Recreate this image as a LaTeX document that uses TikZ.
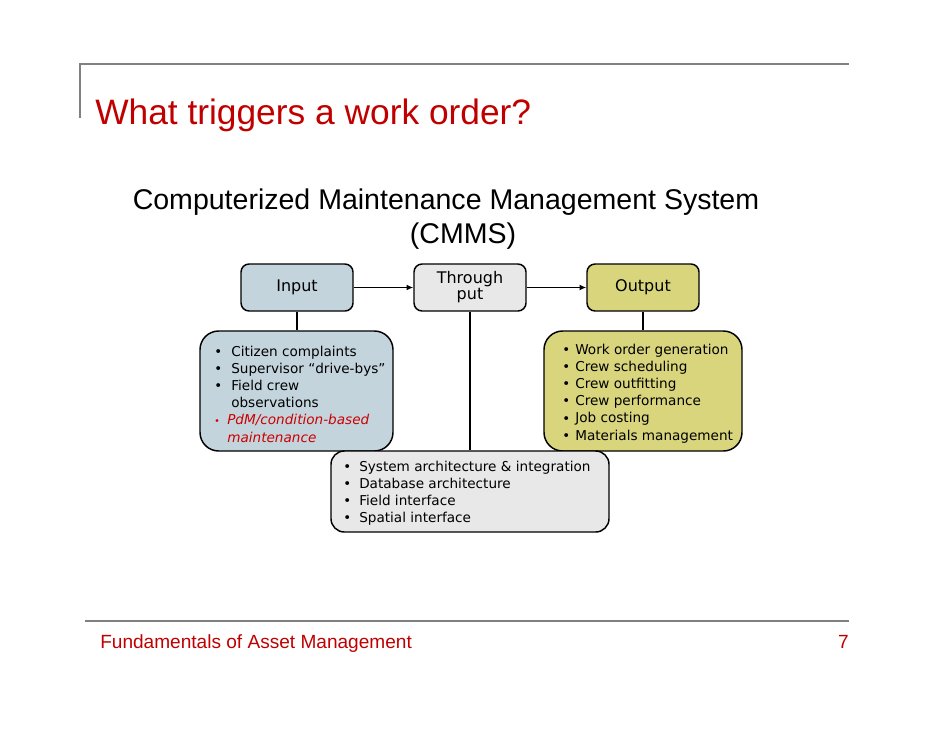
\documentclass[tikz,border=0pt]{standalone}
\usepackage{fontspec}
\setmainfont{Liberation Sans}
\newfontfamily\boxfont{DejaVu Sans}
\usetikzlibrary{arrows.meta}
\definecolor{slidered}{HTML}{C00000}
\definecolor{rulegray}{HTML}{808080}
\definecolor{inblue}{HTML}{C3D4DD}
\definecolor{thgray}{HTML}{E8E8E8}
\definecolor{outyel}{HTML}{D9D57D}
\definecolor{pdmred}{HTML}{CC0000}
\newlength\bulw
\newcommand\bul{\makebox[\bulw][l]{\raisebox{-0.2pt}{\fontsize{10}{10}\selectfont •}}}
\newcommand\itm[1]{\hbox{\bul#1}}
\newcommand\cont[1]{\hbox{\hspace*{\bulw}#1}}
\newcommand\lst[2]{\vtop{\setlength\bulw{#1}\baselineskip=12.9pt #2}}
\tikzset{
  topbox/.style={draw=black, line width=1.1pt, rounded corners=6pt, minimum width=84pt, minimum height=35.25pt, inner sep=0pt, font=\boxfont\fontsize{12}{12}\selectfont, align=center},
  listbox/.style={draw=black, line width=1.1pt, minimum height=90pt, inner sep=0pt},
  listtext/.style={anchor=base west, inner sep=0pt, font=\boxfont\fontsize{10.2}{12.9}\selectfont},
  conn/.style={line width=1.1pt},
  arr/.style={line width=1.1pt, -{Latex[length=5pt,width=4.5pt]}},
  rule/.style={draw=rulegray, line width=1.6pt}
}
\begin{document}
\begin{tikzpicture}[x=0.75pt,y=-0.75pt]
\useasboundingbox (0,0) rectangle (942,728);
% slide rules
\coordinate (tl) at (80,64);
\coordinate (tr) at (849,64);
\coordinate (tv) at (80,118);
\coordinate (bl) at (85,621);
\coordinate (br) at (849,621);
\draw[rule] (tv) -- (tl) -- (tr);
\draw[rule] (bl) -- (br);
% title
\node[anchor=base west, inner sep=0pt, text=slidered, font=\fontsize{26.5}{30}\selectfont] (title) at (95,124) {What triggers a work order?};
\node[anchor=base, inner sep=0pt, font=\fontsize{21.4}{24}\selectfont] (sub1) at (446,209) {Computerized Maintenance Management System};
\node[anchor=base, inner sep=0pt, font=\fontsize{21.4}{24}\selectfont] (sub2) at (463,243) {(CMMS)};
% top boxes
\node[topbox, fill=inblue] (inp) at (297,287.5) {Input};
\node[topbox, fill=thgray] (thr) at (470,287.5) {Through\\put};
\node[topbox, fill=outyel] (out) at (643,287.5) {Output};
% list boxes
\node[listbox, fill=inblue, rounded corners=14pt, minimum width=144.75pt] (inl) at (296.5,391) {};
\node[listbox, fill=outyel, rounded corners=14pt, minimum width=148.5pt] (outl) at (643,391) {};
\node[listbox, fill=thgray, rounded corners=10pt, minimum width=208.5pt, minimum height=60.75pt] (thl) at (470,491.5) {};
% connectors
\draw[arr] (inp.east) -- (thr.west);
\draw[arr] (thr.east) -- (out.west);
\draw[conn] (inp.south) -- (inp.south |- inl.north);
\draw[conn] (out.south) -- (out.south |- outl.north);
\draw[conn] (thr.south) -- (thr.south |- thl.north);
% list texts
\node[listtext] (inltext) at (214,356) {\lst{12.75pt}{%
  \itm{Citizen complaints}
  \itm{Supervisor “drive-bys”}
  \itm{Field crew}
  \cont{observations}
  \hbox{\color{pdmred}\makebox[9.75pt][l]{\raisebox{0.2pt}{\fontsize{7}{7}\selectfont •}}\itshape PdM/condition-based}
  \hbox{\color{pdmred}\hspace*{9.75pt}\itshape maintenance}}};
\node[listtext] (outltext) at (562,354) {\lst{9.75pt}{%
  \itm{Work order generation}
  \itm{Crew scheduling}
  \itm{Crew outfitting}
  \itm{Crew performance}
  \itm{Job costing}
  \itm{Materials management}}};
\node[listtext] (thltext) at (343,471) {\lst{12pt}{%
  \itm{System architecture \& integration}
  \itm{Database architecture}
  \itm{Field interface}
  \itm{Spatial interface}}};
% footer
\node[anchor=base west, inner sep=0pt, text=slidered, font=\fontsize{14.3}{16}\selectfont] (foot) at (100,648) {Fundamentals of Asset Management};
\node[anchor=base east, inner sep=0pt, text=slidered, font=\fontsize{14.3}{16}\selectfont] (pnum) at (849,648) {7};
\end{tikzpicture}
\end{document}
